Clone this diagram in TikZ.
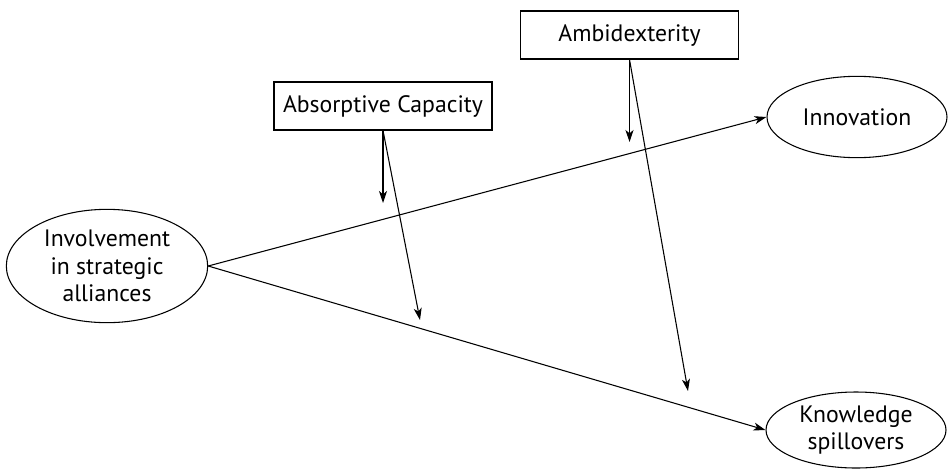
\documentclass[tikz,border=0pt]{standalone}
\usepackage{fontspec}
\setmainfont{PT Sans}
\usepackage{tikz}
\usetikzlibrary{arrows.meta, positioning, shapes.geometric}

\begin{document}
\begin{tikzpicture}[x=0.75pt, y=-0.75pt,
  every node/.style={font=\fontsize{17.8}{20.5}\selectfont, align=center, inner sep=0pt},
  oval/.style={draw, ellipse, line width=0.8pt},
  modbox/.style={draw, rectangle, line width=0.8pt, minimum width=163.5pt, minimum height=36pt},
  link/.style={line width=0.8pt, -{Stealth[length=9pt, width=6pt, inset=2.5pt]}}]
  \useasboundingbox (0,0) rectangle (948,468);
  % constructs
  \node[oval, minimum width=151pt, minimum height=85pt] (involve) at (107,266) {Involvement\\in strategic\\alliances};
  \node[oval, minimum width=135pt, minimum height=61pt] (innov) at (857,117) {Innovation};
  \node[oval, minimum width=135pt, minimum height=57pt] (spill) at (856,430) {Knowledge\\spillovers};
  % moderators
  \node[modbox] (absorb) at (383,106) {Absorptive Capacity};
  \node[modbox] (ambi) at (629.5,35) {Ambidexterity};
  % free ends of the moderating arrows
  \coordinate (absorbtop) at (383,203);
  \coordinate (absorbbot) at (420,320);
  \coordinate (ambitop) at (629.5,142);
  \coordinate (ambibot) at (688,391);
  % main effects
  \draw[link] (involve.east) -- (innov.west);
  \draw[link] (involve.east) -- (spill.west);
  % moderation
  \draw[link] (absorb.south) -- (absorbtop);
  \draw[link] (absorb.south) -- (absorbbot);
  \draw[link] (ambi.south) -- (ambitop);
  \draw[link] (ambi.south) -- (ambibot);
\end{tikzpicture}
\end{document}
